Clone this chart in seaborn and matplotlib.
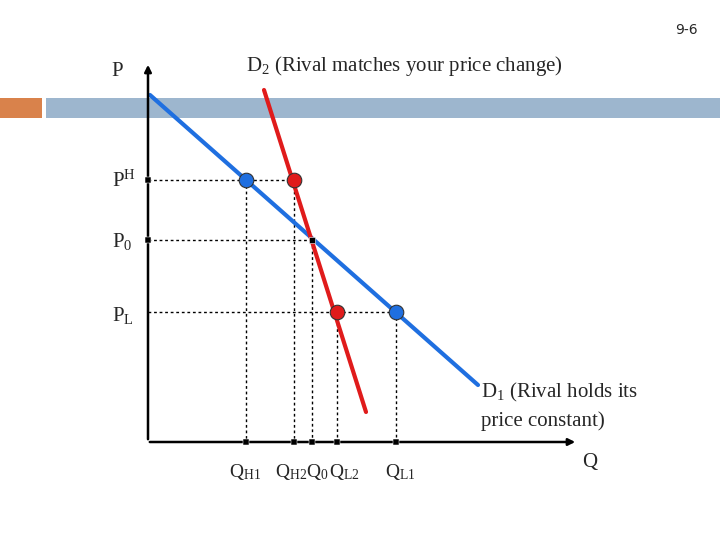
import matplotlib
matplotlib.use("Agg")
import matplotlib.pyplot as plt
import matplotlib.patches as patches
import seaborn as sns

sns.set_style("white")
plt.rcParams['font.family'] = ['Liberation Serif', 'DejaVu Serif']
plt.rcParams['mathtext.fontset'] = 'custom'
plt.rcParams['mathtext.rm'] = 'Liberation Serif'
plt.rcParams['mathtext.it'] = 'Liberation Serif:italic'

# diagram values, in slide pixel units (x right, y down)
d1_x = [150, 478]
d1_y = [95, 385]
d2_x = [264, 366]
d2_y = [90, 412]
price_levels = [180, 240, 312]          # PH, P0, PL
price_ends = [294, 312, 396]            # where the dotted price lines stop
qty_x = [246, 294, 312, 337, 396]       # QH1, QH2, Q0, QL2, QL1
qty_top = [180, 180, 240, 312, 312]
blue_pts_x = [246, 396]
blue_pts_y = [180, 312]
red_pts_x = [294, 337]
red_pts_y = [180, 312]
origin = (148, 442)

fig = plt.figure(figsize=(7.2, 5.4), dpi=100)
ax = fig.add_axes([0, 0, 1, 1])
ax.set_xlim(0, 720)
ax.set_ylim(540, 0)
ax.axis("off")

# slide header bars
ax.add_patch(patches.Rectangle((0, 98), 42, 20, color="#D9824B", lw=0))
ax.add_patch(patches.Rectangle((46, 98), 674, 20, color="#9DB6CE", lw=0))
ax.text(698, 30, "9-6", fontsize=10, family="DejaVu Sans", ha="right", va="center")

# axes with arrows
ax.annotate("", xy=(origin[0], 62), xytext=origin,
            arrowprops=dict(arrowstyle="-|>", color="black", lw=1.8, mutation_scale=10))
ax.annotate("", xy=(578, origin[1]), xytext=(origin[0] - 1, origin[1]),
            arrowprops=dict(arrowstyle="-|>", color="black", lw=1.8, mutation_scale=10))

# dotted guide lines
for y, xe in zip(price_levels, price_ends):
    ax.plot([origin[0], xe], [y, y], color="black", ls=(0, (2, 2)), lw=1)
for x, yt in zip(qty_x, qty_top):
    ax.plot([x, x], [yt, origin[1]], color="black", ls=(0, (2, 2)), lw=1)

# demand curves
sns.lineplot(x=d1_x, y=d1_y, ax=ax, color="#1F6FE0", lw=3)
sns.lineplot(x=d2_x, y=d2_y, ax=ax, color="#E01B1B", lw=3)

# points
sns.scatterplot(x=blue_pts_x, y=blue_pts_y, ax=ax, s=110, color="#1F6FE0", edgecolor="#333333", linewidth=0.8, zorder=5)
sns.scatterplot(x=red_pts_x, y=red_pts_y, ax=ax, s=110, color="#E01B1B", edgecolor="#333333", linewidth=0.8, zorder=5)
sns.scatterplot(x=[312], y=[240], ax=ax, s=25, marker="s", color="black", zorder=5)
sns.scatterplot(x=[origin[0]] * 2, y=[240, 180], ax=ax, s=20, marker="s", color="black", zorder=5)
sns.scatterplot(x=qty_x, y=[origin[1]] * len(qty_x), ax=ax, s=20, marker="s", color="black", zorder=5)

fs = 15
ax.text(117, 72, "P", fontsize=fs, ha="center", va="center")
ax.text(246, 66, "D$_2$ (Rival matches your price change)", fontsize=fs, va="center")
ax.text(112, 181, "P$^{\\rm H}$", fontsize=fs, va="center")
ax.text(112, 241, "P$_0$", fontsize=fs, va="center")
ax.text(112, 316, "P$_{\\rm L}$", fontsize=fs, va="center")
ax.text(481, 392, "D$_1$ (Rival holds its", fontsize=fs, va="center")
ax.text(481, 421, "price constant)", fontsize=fs, va="center")
ax.text(590, 462, "Q", fontsize=fs, ha="center", va="center")
for label, x in zip(["Q$_{\\rm H1}$", "Q$_{\\rm H2}$", "Q$_0$", "Q$_{\\rm L2}$", "Q$_{\\rm L1}$"],
                    [229, 275, 306, 329, 385]):
    ax.text(x, 472, label, fontsize=14, va="center")

fig.savefig("out.png", dpi=100)
